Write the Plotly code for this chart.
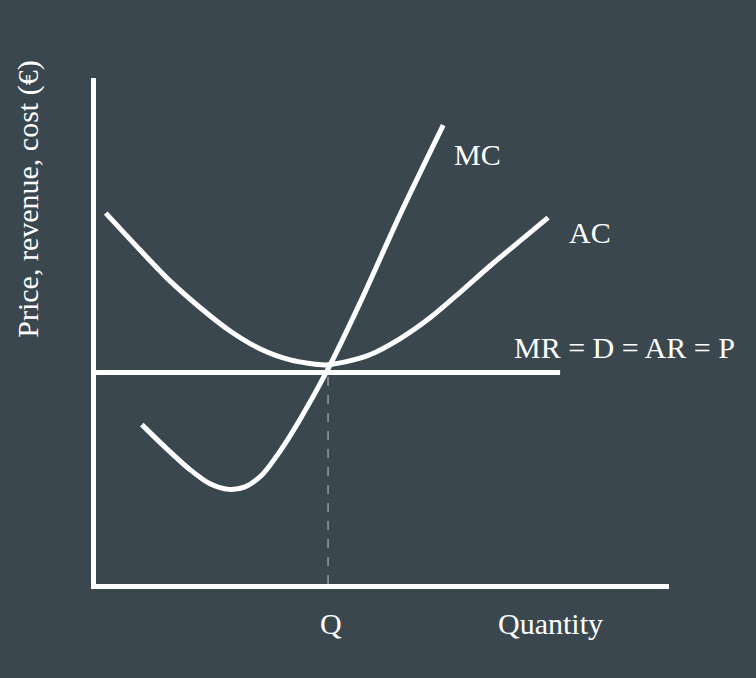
import plotly.graph_objects as go

# ---- data (arbitrary quantity / price units) ----
mc_q = [0.80, 1.20, 1.64, 1.99, 2.32, 2.60, 2.90, 3.21, 3.56, 4.05, 4.61, 5.31, 6.06]
mc_p = [3.15, 2.71, 2.26, 1.98, 1.87, 1.92, 2.16, 2.62, 3.25, 4.25, 5.56, 7.31, 9.07]

ac_q = [0.17, 0.77, 1.29, 1.82, 2.34, 2.86, 3.39, 4.00, 4.35, 4.78, 5.31, 5.83, 6.35, 6.88, 7.40, 7.89]
ac_p = [7.33, 6.60, 5.99, 5.46, 5.00, 4.65, 4.43, 4.33, 4.39, 4.53, 4.85, 5.26, 5.76, 6.29, 6.78, 7.24]

mr_q = [0.0, 8.10]
price = 4.18
q_star = 4.05

labels = {"MC": (6.21, 8.48), "AC": (8.22, 6.94), "MR = D = AR = P": (7.26, 4.67)}

BG = "#3b474f"
FONT = "Liberation Serif"

fig = go.Figure()
fig.add_trace(go.Scatter(x=[q_star, q_star], y=[0, price], mode="lines",
                         line=dict(color="#9a9a9a", width=1.5, dash="dash"), hoverinfo="skip"))
fig.add_trace(go.Scatter(x=mr_q, y=[price, price], mode="lines",
                         line=dict(color="white", width=5), hoverinfo="skip"))
fig.add_trace(go.Scatter(x=ac_q, y=ac_p, mode="lines",
                         line=dict(color="white", width=5, shape="spline", smoothing=0.8), hoverinfo="skip"))
fig.add_trace(go.Scatter(x=mc_q, y=mc_p, mode="lines",
                         line=dict(color="white", width=5, shape="spline", smoothing=0.8), hoverinfo="skip"))

ann = []
for txt, (x, y) in labels.items():
    ann.append(dict(x=x, y=y, xref="x", yref="y", text=txt, showarrow=False,
                    xanchor="left", yanchor="middle"))
ann.append(dict(x=q_star + 0.05, y=-0.078, xref="x", yref="paper", text="Q", showarrow=False,
                xanchor="center", yanchor="middle"))
ann.append(dict(x=7.94, y=-0.078, xref="x", yref="paper", text="Quantity", showarrow=False,
                xanchor="center", yanchor="middle"))
ann.append(dict(x=-0.119, y=0.761, xref="paper", yref="paper", text="Price, revenue, cost (€)",
                showarrow=False, textangle=-90, xanchor="center", yanchor="middle"))

fig.update_layout(
    width=756, height=678,
    margin=dict(l=96, r=87, t=78, b=93.5),
    paper_bgcolor=BG, plot_bgcolor=BG,
    showlegend=False,
    font=dict(family=FONT, size=30, color="white"),
    annotations=ann,
    xaxis=dict(range=[0, 10], showline=True, linecolor="white", linewidth=5,
               showgrid=False, zeroline=False, showticklabels=False, ticks="", fixedrange=True),
    yaxis=dict(range=[0, 10], showline=True, linecolor="white", linewidth=5,
               showgrid=False, zeroline=False, showticklabels=False, ticks="", fixedrange=True),
)

fig.write_html(
    "out.html",
    config={"displayModeBar": False},
    post_script="document.body.style.margin='0';document.body.style.overflow='hidden';"
                "document.body.style.background='" + BG + "';",
)
